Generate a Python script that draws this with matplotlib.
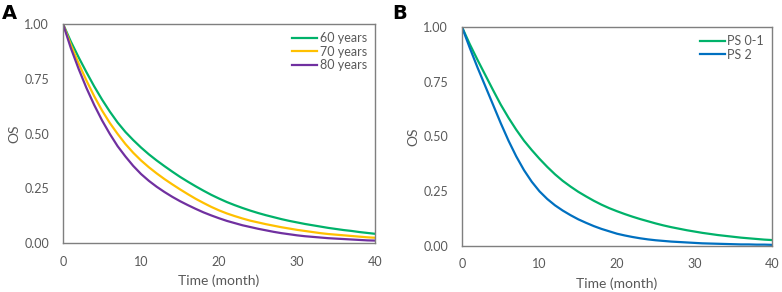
import matplotlib
matplotlib.use("Agg")
import matplotlib.pyplot as plt

months = list(range(0, 41))

os_60 = [1.000, 0.920, 0.848, 0.780, 0.715, 0.655, 0.600, 0.550, 0.507, 0.470,
         0.436, 0.405, 0.377, 0.351, 0.326, 0.302, 0.280, 0.259, 0.239, 0.220,
         0.203, 0.187, 0.173, 0.160, 0.148, 0.137, 0.127, 0.118, 0.109, 0.101,
         0.094, 0.087, 0.081, 0.075, 0.069, 0.064, 0.059, 0.055, 0.050, 0.046, 0.042]
os_70 = [1.000, 0.905, 0.820, 0.742, 0.670, 0.605, 0.548, 0.498, 0.452, 0.412,
         0.377, 0.346, 0.318, 0.292, 0.268, 0.245, 0.223, 0.202, 0.183, 0.165,
         0.149, 0.135, 0.123, 0.112, 0.102, 0.094, 0.086, 0.079, 0.072, 0.066,
         0.060, 0.055, 0.050, 0.045, 0.041, 0.038, 0.035, 0.032, 0.029, 0.026, 0.024]
os_80 = [1.000, 0.890, 0.795, 0.708, 0.630, 0.560, 0.498, 0.442, 0.395, 0.352,
         0.315, 0.284, 0.257, 0.233, 0.211, 0.191, 0.173, 0.156, 0.140, 0.126,
         0.113, 0.101, 0.091, 0.081, 0.073, 0.065, 0.058, 0.051, 0.045, 0.040,
         0.035, 0.031, 0.028, 0.025, 0.022, 0.020, 0.018, 0.016, 0.014, 0.012, 0.011]

os_ps01 = [1.000, 0.922, 0.850, 0.781, 0.712, 0.645, 0.585, 0.530, 0.480, 0.437,
           0.397, 0.360, 0.326, 0.296, 0.270, 0.246, 0.225, 0.205, 0.187, 0.171,
           0.157, 0.144, 0.132, 0.121, 0.111, 0.101, 0.092, 0.084, 0.077, 0.070,
           0.064, 0.058, 0.053, 0.048, 0.044, 0.040, 0.036, 0.033, 0.030, 0.027, 0.025]
os_ps2 = [1.000, 0.905, 0.815, 0.730, 0.645, 0.560, 0.480, 0.408, 0.345, 0.292,
          0.248, 0.213, 0.184, 0.160, 0.139, 0.120, 0.104, 0.089, 0.076, 0.065,
          0.054, 0.046, 0.039, 0.033, 0.028, 0.024, 0.021, 0.018, 0.016, 0.014,
          0.012, 0.010, 0.009, 0.008, 0.007, 0.006, 0.005, 0.005, 0.004, 0.004, 0.003]

xticks = [0, 10, 20, 30, 40]
yticks = [0.0, 0.25, 0.5, 0.75, 1.0]
ytick_labels = ["0.00", "0.25", "0.50", "0.75", "1.00"]

GREEN = "#00B26A"
YELLOW = "#FFC000"
PURPLE = "#7030A0"
BLUE = "#0070C0"
TXT = "#595959"
FRAME = "#7F7F7F"

plt.rcParams['font.family'] = ['Lato', 'DejaVu Sans']

fig = plt.figure(figsize=(7.82, 2.92), dpi=100)
axA = fig.add_axes([0.0806, 0.1678, 0.399, 0.750])
axB = fig.add_axes([0.5908, 0.1592, 0.3964, 0.748])


def style(ax):
    ax.set_xlim(0, 40)
    ax.set_ylim(0, 1.0)
    ax.set_xticks(xticks)
    ax.set_xticklabels([str(t) for t in xticks])
    ax.set_yticks(yticks)
    ax.set_yticklabels(ytick_labels)
    ax.tick_params(length=0, labelsize=9, colors=TXT)
    ax.tick_params(axis='y', pad=10)
    ax.tick_params(axis='x', pad=9)
    for s in ax.spines.values():
        s.set_color(FRAME)
        s.set_linewidth(1.0)
    ax.set_xlabel("Time (month)", fontsize=10, color=TXT, labelpad=5)
    ax.set_ylabel("OS", fontsize=10, color=TXT, labelpad=3)


lw = 1.6
axA.plot(months, os_60, color=GREEN, lw=lw, label="60 years")
axA.plot(months, os_70, color=YELLOW, lw=lw, label="70 years")
axA.plot(months, os_80, color=PURPLE, lw=lw, label="80 years")
style(axA)

axB.plot(months, os_ps01, color=GREEN, lw=lw, label="PS 0-1")
axB.plot(months, os_ps2, color=BLUE, lw=lw, label="PS 2")
style(axB)

for ax in (axA, axB):
    leg = ax.legend(loc="upper right", frameon=False, fontsize=9, handlelength=2.0,
                    handletextpad=0.2, labelspacing=0.12, borderaxespad=0.25)
    for t in leg.get_texts():
        t.set_color(TXT)

fig.text(0.003, 0.985, "A", fontsize=14, fontweight="bold", va="top", ha="left", family="DejaVu Sans")
fig.text(0.502, 0.985, "B", fontsize=14, fontweight="bold", va="top", ha="left", family="DejaVu Sans")

fig.savefig("out.png", dpi=100)
